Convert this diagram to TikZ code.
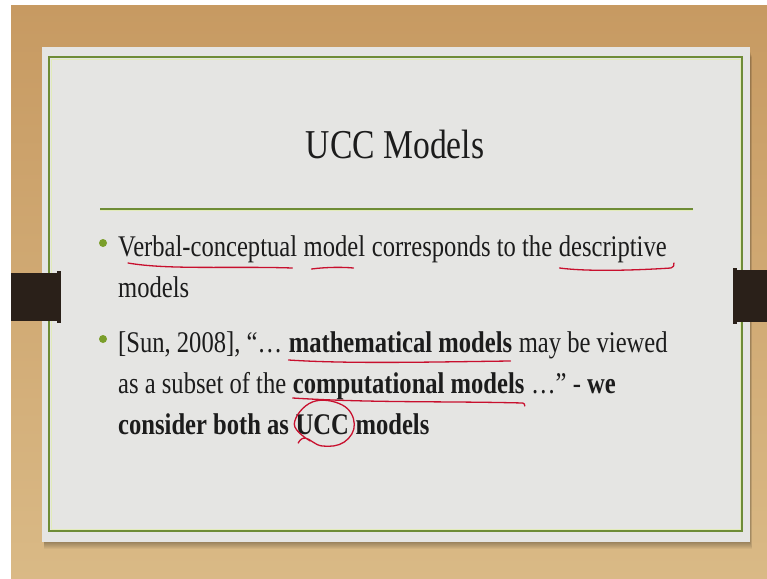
\documentclass[tikz,border=0pt]{standalone}
\usepackage{fontspec}
\setmainfont{Liberation Serif}[FakeStretch=0.82]
\usetikzlibrary{positioning}
\definecolor{wooddark}{HTML}{C79A62}
\definecolor{woodlight}{HTML}{DDBF8C}
\definecolor{cardgray}{HTML}{E5E5E3}
\definecolor{framegreen}{HTML}{6E8C36}
\definecolor{framelight}{HTML}{E2EBBA}
\definecolor{tabbrown}{HTML}{2A2019}
\definecolor{bulletgreen}{HTML}{7A9E2A}
\definecolor{penred}{HTML}{C8102E}
\definecolor{txt}{HTML}{1C1C1C}
\tikzset{
  word/.style={inner sep=0pt, text=txt, font=\fontsize{30}{36}\selectfont,
    text height=20pt, text depth=7pt},
  strong/.style={word, font=\fontsize{30}{36}\selectfont\bfseries},
  redline/.style={draw=penred, line width=1.3pt, line cap=round, line join=round},
  bulletdot/.style={circle, fill=bulletgreen, inner sep=0pt, minimum size=8pt},
}
\begin{document}
\begin{tikzpicture}[x=1pt, y=-1pt, node distance=6.2pt]
    \useasboundingbox (0,0) rectangle (767,578);
    \fill[white] (0,0) rectangle (767,578);
    \shade[top color=wooddark, middle color=woodlight, bottom color=woodlight!85!wooddark]
        (11,6) rectangle (767,578);
    \foreach \s in {1,...,7}
        \fill[black, opacity=0.045] (44,{50+\s}) rectangle ({750+\s/3},{542+\s});
    \fill[cardgray] (42,47) rectangle (750,542);
    \draw[framelight, line width=1pt] (51,59) rectangle (740,529);
    \draw[framegreen, line width=1.6pt] (49,57) rectangle (742,531);
    \fill[tabbrown] (11,273) rectangle (58,321);
    \fill[tabbrown] (57,271) rectangle (61,323);
    \fill[tabbrown] (736,270) rectangle (767,322);
    \fill[tabbrown] (733,268) rectangle (737,324);
    \node[font=\fontsize{41}{48}\selectfont, text=txt, inner sep=0pt, anchor=base] (title) at (395,158) {UCC Models};
    \draw[framelight, line width=3pt] (100,209) -- (693,209);
    \draw[framegreen, line width=1.6pt] (100,209) -- (693,209);
    \node[bulletdot] (b1) at (103,243) {};
    \node[word, anchor=base west] (verbal) at (118,256) {Verbal-conceptual};
    \node[word, right=of verbal] (model) {model};
    \node[word, right=of model] (corr) {corresponds to the};
    \node[word, right=of corr] (descr) {descriptive};
    \node[word, anchor=base west] (models) at (118,297) {models};
    \node[bulletdot] (b2) at (103,339) {};
    \node[word, anchor=base west] (sun) at (118,352) {[Sun, 2008], “…};
    \node[strong, right=of sun] (math) {mathematical models};
    \node[word, right=of math] (viewed) {may be viewed};
    \node[word, anchor=base west] (subset) at (118,393) {as a subset of the};
    \node[strong, right=of subset] (comp) {computational models};
    \node[word, right=of comp] (we) {…” - \textbf{we}};
    \node[strong, anchor=base west] (both) at (118,434) {consider both as};
    \node[strong, right=of both] (ucc) {UCC};
    \node[strong, right=of ucc] (last) {models};
    \draw[redline] ([shift={(10,7)}]verbal.base west) .. controls +(40,7) and +(-60,-2) .. ([shift={(-5,12)}]verbal.base east);
    \draw[redline] ([shift={(8,13)}]model.base west) .. controls +(15,-2) and +(-10,-1) .. ([shift={(-12,12)}]model.base east);
    \draw[redline] ([shift={(1,12)}]descr.base west) .. controls +(30,4) and +(-30,2) .. ([shift={(4,12)}]descr.base east)
        .. controls +(3,-1) and +(0,3) .. ([shift={(7,7)}]descr.base east);
    \draw[redline] ([shift={(0,8)}]math.base west) .. controls +(60,4) and +(-80,1) .. ([shift={(-2,9)}]math.base east);
    \draw[redline] ([shift={(0,5)}]comp.base west) .. controls +(80,5) and +(-80,-2) .. ([shift={(-2,10)}]comp.base east)
        .. controls +(2,1) .. ([shift={(0,13)}]comp.base east);
    \draw[redline] plot[smooth, tension=0.7] coordinates {
        ([shift={(-12,7)}]ucc.base) ([shift={(-28,-10)}]ucc.base) ([shift={(-10,-32)}]ucc.base)
        ([shift={(20,-29)}]ucc.base) ([shift={(32,-10)}]ucc.base) ([shift={(22,8)}]ucc.base)
        ([shift={(0,12)}]ucc.base) ([shift={(-17,4)}]ucc.base) ([shift={(-24,9)}]ucc.base)};
\end{tikzpicture}
\end{document}
